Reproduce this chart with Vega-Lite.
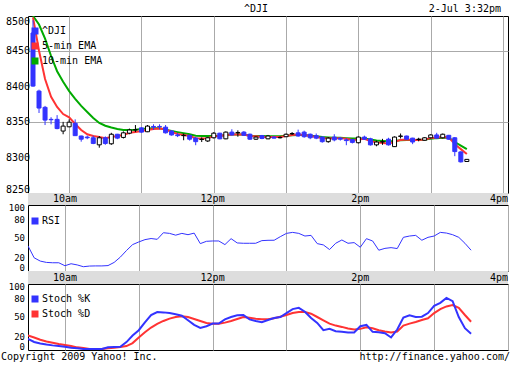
{
"$schema": "https://vega.github.io/schema/vega-lite/v6.json",
"padding": {"left": 0, "top": 3, "right": 0, "bottom": 0},
"background": "white",
"spacing": 0,
"bounds": "flush",
"datasets": {
"bars": [
{"t":"2009-07-02T09:30:00","o":8476,"h":8494,"l":8400,"c":8401,"e5":8498,"e10":8500,"rsi":38,"k":17,"d":22},
{"t":"2009-07-02T09:35:00","o":8394,"h":8396,"l":8363,"c":8370,"e5":8451,"e10":8488,"rsi":20,"k":12.2,"d":19},
{"t":"2009-07-02T09:40:00","o":8371,"h":8373,"l":8346,"c":8353,"e5":8411,"e10":8468,"rsi":15,"k":10,"d":15.5},
{"t":"2009-07-02T09:45:00","o":8354,"h":8357,"l":8347,"c":8353.5,"e5":8386,"e10":8443.5,"rsi":13,"k":8.3,"d":13},
{"t":"2009-07-02T09:50:00","o":8354,"h":8360,"l":8340,"c":8341,"e5":8371.5,"e10":8422,"rsi":12.5,"k":7,"d":11},
{"t":"2009-07-02T09:55:00","o":8337.5,"h":8350.5,"l":8333,"c":8344.5,"e5":8361.5,"e10":8407,"rsi":12.5,"k":6,"d":9},
{"t":"2009-07-02T10:00:00","o":8343.5,"h":8354,"l":8343,"c":8350,"e5":8357,"e10":8394,"rsi":8,"k":5,"d":7.5},
{"t":"2009-07-02T10:05:00","o":8348.5,"h":8354,"l":8331,"c":8331,"e5":8347.5,"e10":8383,"rsi":11,"k":3.5,"d":6},
{"t":"2009-07-02T10:10:00","o":8330.5,"h":8331,"l":8322.5,"c":8326,"e5":8339,"e10":8373,"rsi":9.2,"k":2.5,"d":4},
{"t":"2009-07-02T10:15:00","o":8329,"h":8331,"l":8326,"c":8328,"e5":8333,"e10":8364.5,"rsi":6.5,"k":1.5,"d":3},
{"t":"2009-07-02T10:20:00","o":8328,"h":8331,"l":8319,"c":8320,"e5":8330.5,"e10":8356,"rsi":7.5,"k":1.4,"d":1.6},
{"t":"2009-07-02T10:25:00","o":8318,"h":8330.5,"l":8314,"c":8328,"e5":8329,"e10":8349,"rsi":7.7,"k":1.4,"d":1.4},
{"t":"2009-07-02T10:30:00","o":8328,"h":8330,"l":8318,"c":8320,"e5":8327.5,"e10":8345,"rsi":7.7,"k":1.4,"d":1.4},
{"t":"2009-07-02T10:35:00","o":8319.5,"h":8335,"l":8318,"c":8333,"e5":8329,"e10":8342.5,"rsi":8.2,"k":4,"d":2.5},
{"t":"2009-07-02T10:40:00","o":8333,"h":8333.5,"l":8326,"c":8327.5,"e5":8330.5,"e10":8340.5,"rsi":13,"k":4.5,"d":3.4},
{"t":"2009-07-02T10:45:00","o":8328.5,"h":8337,"l":8327,"c":8335,"e5":8332,"e10":8339,"rsi":21,"k":5,"d":4.5},
{"t":"2009-07-02T10:50:00","o":8334.5,"h":8341,"l":8333,"c":8339,"e5":8335,"e10":8339,"rsi":31,"k":12,"d":6},
{"t":"2009-07-02T10:55:00","o":8339,"h":8346,"l":8336,"c":8339.5,"e5":8336,"e10":8339.5,"rsi":40,"k":22,"d":10.5},
{"t":"2009-07-02T11:00:00","o":8342,"h":8343,"l":8335,"c":8336,"e5":8337.5,"e10":8340.5,"rsi":44,"k":30,"d":19},
{"t":"2009-07-02T11:05:00","o":8336.5,"h":8346,"l":8336,"c":8344.5,"e5":8339,"e10":8341,"rsi":47.5,"k":42,"d":27},
{"t":"2009-07-02T11:10:00","o":8344,"h":8347,"l":8339,"c":8343,"e5":8340.5,"e10":8341.5,"rsi":49.2,"k":53,"d":34},
{"t":"2009-07-02T11:15:00","o":8344,"h":8347,"l":8340,"c":8343.5,"e5":8341,"e10":8341.5,"rsi":48,"k":57.5,"d":39.7},
{"t":"2009-07-02T11:20:00","o":8343,"h":8346,"l":8334,"c":8335,"e5":8340,"e10":8339.5,"rsi":58,"k":57,"d":44},
{"t":"2009-07-02T11:25:00","o":8337.5,"h":8339,"l":8331,"c":8332,"e5":8336,"e10":8337.5,"rsi":57,"k":56,"d":47.5},
{"t":"2009-07-02T11:30:00","o":8332,"h":8334.5,"l":8329,"c":8331,"e5":8333.5,"e10":8336,"rsi":54.3,"k":54.2,"d":50},
{"t":"2009-07-02T11:35:00","o":8331,"h":8334,"l":8324.5,"c":8331.5,"e5":8332,"e10":8334.5,"rsi":57,"k":52,"d":51},
{"t":"2009-07-02T11:40:00","o":8331.5,"h":8332,"l":8324,"c":8326,"e5":8330.5,"e10":8333,"rsi":55,"k":45,"d":50},
{"t":"2009-07-02T11:45:00","o":8327.5,"h":8329,"l":8317.5,"c":8322.5,"e5":8327.5,"e10":8331,"rsi":57.4,"k":38,"d":47},
{"t":"2009-07-02T11:50:00","o":8325.5,"h":8328.5,"l":8322,"c":8326,"e5":8327,"e10":8330.5,"rsi":41.5,"k":33.5,"d":44},
{"t":"2009-07-02T11:55:00","o":8323.5,"h":8329,"l":8322,"c":8328,"e5":8327.5,"e10":8330.5,"rsi":45,"k":36,"d":41},
{"t":"2009-07-02T12:00:00","o":8328,"h":8336,"l":8327,"c":8334.5,"e5":8330,"e10":8330.5,"rsi":45.5,"k":40,"d":39.7},
{"t":"2009-07-02T12:05:00","o":8334.5,"h":8335,"l":8326,"c":8326.5,"e5":8330.5,"e10":8331,"rsi":45.5,"k":40,"d":39.7},
{"t":"2009-07-02T12:10:00","o":8326.5,"h":8337,"l":8326,"c":8336,"e5":8332,"e10":8332,"rsi":40,"k":46.5,"d":41.5},
{"t":"2009-07-02T12:15:00","o":8336,"h":8340,"l":8331,"c":8332,"e5":8332.5,"e10":8332.5,"rsi":49,"k":50,"d":44},
{"t":"2009-07-02T12:20:00","o":8335,"h":8338.5,"l":8329.5,"c":8335.5,"e5":8332.5,"e10":8332.5,"rsi":42.5,"k":52.5,"d":47},
{"t":"2009-07-02T12:25:00","o":8336,"h":8337.5,"l":8331,"c":8331.5,"e5":8332.5,"e10":8332.5,"rsi":42,"k":53,"d":50},
{"t":"2009-07-02T12:30:00","o":8333,"h":8334,"l":8325,"c":8326,"e5":8330.5,"e10":8331,"rsi":42,"k":46.4,"d":49},
{"t":"2009-07-02T12:35:00","o":8326,"h":8330,"l":8325,"c":8329,"e5":8330,"e10":8330.5,"rsi":42,"k":44,"d":47.4},
{"t":"2009-07-02T12:40:00","o":8331,"h":8332,"l":8326,"c":8327,"e5":8329,"e10":8330.5,"rsi":46,"k":42.2,"d":46.5},
{"t":"2009-07-02T12:45:00","o":8326.5,"h":8332,"l":8326,"c":8330.5,"e5":8329,"e10":8330,"rsi":46.5,"k":45.5,"d":46.7},
{"t":"2009-07-02T12:50:00","o":8329,"h":8330,"l":8327,"c":8327.5,"e5":8329,"e10":8330,"rsi":46.6,"k":48.5,"d":48},
{"t":"2009-07-02T12:55:00","o":8328,"h":8330,"l":8327,"c":8328.5,"e5":8329,"e10":8330,"rsi":52,"k":50,"d":50.5},
{"t":"2009-07-02T13:00:00","o":8329.5,"h":8334,"l":8329,"c":8333,"e5":8330.5,"e10":8331,"rsi":57,"k":56,"d":53},
{"t":"2009-07-02T13:05:00","o":8333.5,"h":8336,"l":8332,"c":8334,"e5":8332,"e10":8331.5,"rsi":58.5,"k":62,"d":56},
{"t":"2009-07-02T13:10:00","o":8335,"h":8339.5,"l":8329.5,"c":8330.5,"e5":8332.5,"e10":8332,"rsi":57,"k":63.8,"d":57.7},
{"t":"2009-07-02T13:15:00","o":8336,"h":8338,"l":8328,"c":8329.5,"e5":8332,"e10":8332,"rsi":53,"k":58,"d":57.5},
{"t":"2009-07-02T13:20:00","o":8333,"h":8334,"l":8326,"c":8328,"e5":8330.5,"e10":8331,"rsi":54,"k":48.5,"d":55},
{"t":"2009-07-02T13:25:00","o":8331,"h":8334,"l":8326,"c":8327.5,"e5":8329,"e10":8330,"rsi":41.5,"k":41,"d":50},
{"t":"2009-07-02T13:30:00","o":8329,"h":8330,"l":8321,"c":8322.5,"e5":8327.5,"e10":8329,"rsi":39.5,"k":30,"d":45},
{"t":"2009-07-02T13:35:00","o":8322.5,"h":8329,"l":8321,"c":8327.5,"e5":8327,"e10":8328.5,"rsi":32.5,"k":32,"d":40},
{"t":"2009-07-02T13:40:00","o":8329,"h":8333,"l":8323,"c":8325,"e5":8327.5,"e10":8328,"rsi":42,"k":28.5,"d":37},
{"t":"2009-07-02T13:45:00","o":8327.5,"h":8329,"l":8324,"c":8326,"e5":8327.5,"e10":8328,"rsi":47,"k":27.5,"d":35},
{"t":"2009-07-02T13:50:00","o":8325,"h":8327.5,"l":8317.5,"c":8324,"e5":8326.5,"e10":8327.5,"rsi":42,"k":26.7,"d":32.5},
{"t":"2009-07-02T13:55:00","o":8325.5,"h":8326,"l":8320,"c":8321.5,"e5":8325,"e10":8327,"rsi":43,"k":26.7,"d":31},
{"t":"2009-07-02T14:00:00","o":8321,"h":8330,"l":8320,"c":8329,"e5":8325.5,"e10":8327,"rsi":36,"k":36,"d":32},
{"t":"2009-07-02T14:05:00","o":8329,"h":8331,"l":8325,"c":8326,"e5":8326.5,"e10":8327,"rsi":49,"k":38,"d":34.4},
{"t":"2009-07-02T14:10:00","o":8326.5,"h":8328,"l":8317,"c":8318,"e5":8323.5,"e10":8325.5,"rsi":45.5,"k":27.5,"d":33},
{"t":"2009-07-02T14:15:00","o":8318,"h":8324,"l":8316,"c":8322,"e5":8321.5,"e10":8324,"rsi":31.5,"k":27,"d":30},
{"t":"2009-07-02T14:20:00","o":8322,"h":8326.5,"l":8318,"c":8322.5,"e5":8320.5,"e10":8323.5,"rsi":34.3,"k":25.5,"d":28},
{"t":"2009-07-02T14:25:00","o":8326,"h":8328,"l":8317,"c":8318,"e5":8320,"e10":8323,"rsi":35.4,"k":19,"d":26.5},
{"t":"2009-07-02T14:30:00","o":8315.5,"h":8330,"l":8315,"c":8329,"e5":8322,"e10":8323.5,"rsi":34,"k":31,"d":28},
{"t":"2009-07-02T14:35:00","o":8330,"h":8334,"l":8327,"c":8330.5,"e5":8325,"e10":8324.5,"rsi":51,"k":49,"d":37},
{"t":"2009-07-02T14:40:00","o":8330.5,"h":8331,"l":8325,"c":8326,"e5":8325.5,"e10":8325,"rsi":53,"k":52.5,"d":40},
{"t":"2009-07-02T14:45:00","o":8327.5,"h":8328,"l":8319,"c":8322,"e5":8325,"e10":8325,"rsi":54,"k":50,"d":42.5},
{"t":"2009-07-02T14:50:00","o":8325.5,"h":8328,"l":8323,"c":8326,"e5":8325,"e10":8325,"rsi":46.6,"k":50.5,"d":45.5},
{"t":"2009-07-02T14:55:00","o":8324.5,"h":8329,"l":8324,"c":8328,"e5":8325.5,"e10":8325.5,"rsi":51,"k":56,"d":48},
{"t":"2009-07-02T15:00:00","o":8328,"h":8333,"l":8327,"c":8332,"e5":8327.5,"e10":8326.5,"rsi":53,"k":67,"d":56},
{"t":"2009-07-02T15:05:00","o":8332,"h":8335,"l":8327,"c":8327.5,"e5":8328.5,"e10":8327.5,"rsi":58.5,"k":71.5,"d":62},
{"t":"2009-07-02T15:10:00","o":8328,"h":8334,"l":8327,"c":8333,"e5":8329,"e10":8328,"rsi":57.5,"k":79,"d":66},
{"t":"2009-07-02T15:15:00","o":8331.5,"h":8332,"l":8325,"c":8326,"e5":8328.5,"e10":8328,"rsi":55,"k":74,"d":68},
{"t":"2009-07-02T15:20:00","o":8328,"h":8329,"l":8302,"c":8308.5,"e5":8319,"e10":8322,"rsi":51,"k":50,"d":64},
{"t":"2009-07-02T15:25:00","o":8308,"h":8309,"l":8293,"c":8294,"e5":8312,"e10":8317,"rsi":42,"k":33,"d":53},
{"t":"2009-07-02T15:30:00","o":8294.5,"h":8298,"l":8294,"c":8297.5,"e5":8305,"e10":8312,"rsi":31.5,"k":24.7,"d":42.8}
],
"bandLabels": [
{"t":"2009-07-02T10:00:00","label":"10am","pos":0.5},
{"t":"2009-07-02T12:00:00","label":"12pm","pos":0.5},
{"t":"2009-07-02T14:00:00","label":"2pm","pos":0.5}
],
"bandEnd": [
{"t":"2009-07-02T16:00:00","label":"4pm","pos":0.5}
],
"dashLevels": [{"v": 20}, {"v": 80}],
"solidLevels": [{"v": 50}],
"mainTop": [{"t":"2009-07-02T09:30:00","v":8500}],
"mainMid": [{"t":"2009-07-02T09:30:00","v":8300},{"t":"2009-07-02T09:30:00","v":8350},{"t":"2009-07-02T09:30:00","v":8400},{"t":"2009-07-02T09:30:00","v":8450}],
"mainBot": [{"t":"2009-07-02T09:30:00","v":8250}],
"subTop": [{"t":"2009-07-02T09:30:00","v":100}],
"subHigh": [{"t":"2009-07-02T09:30:00","v":80}],
"subMid": [{"t":"2009-07-02T09:30:00","v":20},{"t":"2009-07-02T09:30:00","v":50}],
"subBot": [{"t":"2009-07-02T09:30:00","v":0}]
},
"vconcat": [
{
"width": 480,
"height": 177,
"data": {"name": "bars"},
"encoding": {
"x": {"field": "t", "type": "temporal",
"scale": {"domain": ["2009-07-02T09:30:00", "2009-07-02T16:00:00"]},
"axis": {"title": null, "labels": false, "domain": false, "ticks": false, "tickCount": 7, "grid": true}}
},
"layer": [
{"mark": {"type": "line", "strokeWidth": 2, "clip": true},
"encoding": {
"y": {"field": "e10", "type": "quantitative", "scale": {"domain": [8250, 8500], "nice": false, "zero": false},
"axis": {"title": null, "values": [8250, 8300, 8350, 8400, 8450, 8500], "labels": false, "ticks": false, "domain": false, "grid": true}},
"color": {"datum": "10-min EMA", "scale": {"domain": ["^DJI", "5-min EMA", "10-min EMA"], "range": ["#3333ff", "#ff3333", "#00aa00"]},
"legend": {"title": null, "orient": "none", "legendX": 2, "legendY": 10, "symbolType": "square", "symbolSize": 9, "symbolStrokeWidth": 4, "labelOffset": 2, "rowPadding": -11, "padding": 0}}
}},
{"mark": {"type": "line", "strokeWidth": 2, "clip": true},
"encoding": {"y": {"field": "e5", "type": "quantitative"}, "color": {"datum": "5-min EMA"}}},
{"mark": {"type": "rule", "clip": true, "strokeWidth": 1},
"encoding": {"y": {"field": "l", "type": "quantitative"}, "y2": {"field": "h"},
"color": {"condition": {"test": "datum.c >= datum.o", "value": "black"}, "value": "#3333ff"}}},
{"mark": {"type": "bar", "size": 4, "strokeWidth": 1, "clip": true},
"encoding": {"y": {"field": "o", "type": "quantitative"}, "y2": {"field": "c"},
"fill": {"condition": {"test": "datum.c >= datum.o", "value": "white"}, "value": "#3333ff"},
"stroke": {"condition": {"test": "datum.c >= datum.o", "value": "black"}, "value": "#3333ff"}}},
{"data": {"name": "mainTop"}, "mark": {"type": "text", "align": "right", "baseline": "top", "dx": -3, "dy": 1},
"encoding": {"y": {"field": "v", "type": "quantitative"}, "text": {"field": "v", "type": "quantitative", "format": "d"}}},
{"data": {"name": "mainMid"}, "mark": {"type": "text", "align": "right", "baseline": "middle", "dx": -3},
"encoding": {"y": {"field": "v", "type": "quantitative"}, "text": {"field": "v", "type": "quantitative", "format": "d"}}},
{"data": {"name": "mainBot"}, "mark": {"type": "text", "align": "right", "baseline": "alphabetic", "dx": -3},
"encoding": {"y": {"field": "v", "type": "quantitative"}, "text": {"field": "v", "type": "quantitative", "format": "d"}}},
{"data": {"values": [{"t": "2009-07-02T12:35:00", "label": "^DJI"}]},
"mark": {"type": "text", "align": "center", "baseline": "alphabetic", "dy": -4},
"encoding": {"y": {"datum": 8500}, "text": {"field": "label"}}},
{"data": {"values": [{"t": "2009-07-02T16:00:00", "label": "2-Jul 3:32pm"}]},
"mark": {"type": "text", "align": "right", "baseline": "alphabetic", "dy": -4, "dx": -2},
"encoding": {"y": {"datum": 8500}, "text": {"field": "label"}}}
]
},
{
"width": 480,
"height": 12,
"view": {"fill": "#dddddd", "stroke": null},
"encoding": {"x": {"field": "t", "type": "temporal", "axis": null,
"scale": {"domain": ["2009-07-02T09:30:00", "2009-07-02T16:00:00"]}},
"y": {"field": "pos", "type": "quantitative", "axis": null, "scale": {"domain": [0, 1]}},
"text": {"field": "label"}},
"layer": [
{"data": {"name": "bandLabels"}, "mark": {"type": "text", "align": "center", "baseline": "middle"}},
{"data": {"name": "bandEnd"}, "mark": {"type": "text", "align": "right", "baseline": "middle"}}
]
},
{
"width": 480,
"height": 66,
"encoding": {
"x": {"field": "t", "type": "temporal",
"scale": {"domain": ["2009-07-02T09:30:00", "2009-07-02T16:00:00"]},
"axis": {"title": null, "labels": false, "domain": false, "ticks": false, "tickCount": 7, "grid": true}}
},
"layer": [
{"data": {"name": "dashLevels"}, "mark": {"type": "rule", "color": "#aaaaaa", "strokeDash": [3, 3], "strokeWidth": 1},
"encoding": {"y": {"field": "v", "type": "quantitative", "scale": {"domain": [0, 100], "nice": false}, "axis": null}}},
{"data": {"name": "solidLevels"}, "mark": {"type": "rule", "color": "#aaaaaa", "strokeWidth": 1},
"encoding": {"y": {"field": "v", "type": "quantitative", "axis": null}}},
{"data": {"name": "bars"}, "mark": {"type": "line", "strokeWidth": 1, "clip": true},
"encoding": {"y": {"field": "rsi", "type": "quantitative", "axis": null},
"color": {"datum": "RSI", "scale": {"domain": ["RSI"], "range": ["#3333ff"]},
"legend": {"title": null, "orient": "none", "legendX": 2, "legendY": 11, "symbolType": "square", "symbolSize": 9, "symbolStrokeWidth": 4, "labelOffset": 2, "padding": 0}}}},
{"data": {"name": "subTop"}, "mark": {"type": "text", "align": "right", "baseline": "top", "dx": -3, "dy": -1, "fontSize": 9},
"encoding": {"y": {"field": "v", "type": "quantitative", "axis": null}, "text": {"field": "v", "type": "quantitative", "format": "d"}}},
{"data": {"name": "subHigh"}, "mark": {"type": "text", "align": "right", "baseline": "middle", "dx": -3, "dy": 1.5, "fontSize": 9},
"encoding": {"y": {"field": "v", "type": "quantitative", "axis": null}, "text": {"field": "v", "type": "quantitative", "format": "d"}}},
{"data": {"name": "subMid"}, "mark": {"type": "text", "align": "right", "baseline": "middle", "dx": -3, "fontSize": 9},
"encoding": {"y": {"field": "v", "type": "quantitative", "axis": null}, "text": {"field": "v", "type": "quantitative", "format": "d"}}},
{"data": {"name": "subBot"}, "mark": {"type": "text", "align": "right", "baseline": "alphabetic", "dx": -3, "fontSize": 9},
"encoding": {"y": {"field": "v", "type": "quantitative", "axis": null}, "text": {"field": "v", "type": "quantitative", "format": "d"}}}
]
},
{
"width": 480,
"height": 13,
"view": {"fill": "#dddddd", "stroke": null},
"encoding": {"x": {"field": "t", "type": "temporal", "axis": null,
"scale": {"domain": ["2009-07-02T09:30:00", "2009-07-02T16:00:00"]}},
"y": {"field": "pos", "type": "quantitative", "axis": null, "scale": {"domain": [0, 1]}},
"text": {"field": "label"}},
"layer": [
{"data": {"name": "bandLabels"}, "mark": {"type": "text", "align": "center", "baseline": "middle"}},
{"data": {"name": "bandEnd"}, "mark": {"type": "text", "align": "right", "baseline": "middle"}}
]
},
{
"width": 480,
"height": 66,
"encoding": {
"x": {"field": "t", "type": "temporal",
"scale": {"domain": ["2009-07-02T09:30:00", "2009-07-02T16:00:00"]},
"axis": {"title": null, "labels": false, "domain": false, "ticks": false, "tickCount": 7, "grid": true}}
},
"layer": [
{"data": {"name": "dashLevels"}, "mark": {"type": "rule", "color": "#aaaaaa", "strokeDash": [3, 3], "strokeWidth": 1},
"encoding": {"y": {"field": "v", "type": "quantitative", "scale": {"domain": [0, 100], "nice": false}, "axis": null}}},
{"data": {"name": "solidLevels"}, "mark": {"type": "rule", "color": "#aaaaaa", "strokeWidth": 1},
"encoding": {"y": {"field": "v", "type": "quantitative", "axis": null}}},
{"data": {"name": "bars"}, "mark": {"type": "line", "strokeWidth": 2, "clip": true},
"encoding": {"y": {"field": "d", "type": "quantitative", "axis": null},
"color": {"datum": "Stoch %D", "scale": {"domain": ["Stoch %K", "Stoch %D"], "range": ["#3333ff", "#ff3333"]},
"legend": {"title": null, "orient": "none", "legendX": 2, "legendY": 10, "symbolType": "square", "symbolSize": 9, "symbolStrokeWidth": 4, "labelOffset": 2, "rowPadding": -9, "padding": 0}}}},
{"data": {"name": "bars"}, "mark": {"type": "line", "strokeWidth": 2, "clip": true},
"encoding": {"y": {"field": "k", "type": "quantitative", "axis": null}, "color": {"datum": "Stoch %K"}}},
{"data": {"name": "subTop"}, "mark": {"type": "text", "align": "right", "baseline": "top", "dx": -3, "dy": -1, "fontSize": 9},
"encoding": {"y": {"field": "v", "type": "quantitative", "axis": null}, "text": {"field": "v", "type": "quantitative", "format": "d"}}},
{"data": {"name": "subHigh"}, "mark": {"type": "text", "align": "right", "baseline": "middle", "dx": -3, "dy": 1.5, "fontSize": 9},
"encoding": {"y": {"field": "v", "type": "quantitative", "axis": null}, "text": {"field": "v", "type": "quantitative", "format": "d"}}},
{"data": {"name": "subMid"}, "mark": {"type": "text", "align": "right", "baseline": "middle", "dx": -3, "fontSize": 9},
"encoding": {"y": {"field": "v", "type": "quantitative", "axis": null}, "text": {"field": "v", "type": "quantitative", "format": "d"}}},
{"data": {"name": "subBot"}, "mark": {"type": "text", "align": "right", "baseline": "alphabetic", "dx": -3, "fontSize": 9},
"encoding": {"y": {"field": "v", "type": "quantitative", "axis": null}, "text": {"field": "v", "type": "quantitative", "format": "d"}}},
{"data": {"values": [{"t": "2009-07-02T09:30:00", "label": "Copyright 2009 Yahoo! Inc."}]},
"mark": {"type": "text", "align": "left", "baseline": "top", "dx": -27, "dy": 2},
"encoding": {"y": {"datum": 0}, "text": {"field": "label"}}},
{"data": {"values": [{"t": "2009-07-02T16:00:00", "label": "http://finance.yahoo.com/"}]},
"mark": {"type": "text", "align": "right", "baseline": "top", "dx": 2, "dy": 2},
"encoding": {"y": {"datum": 0}, "text": {"field": "label"}}}
]
}
],
"resolve": {"scale": {"color": "independent", "x": "independent", "y": "independent"}, "legend": {"color": "independent"}},
"config": {
"font": "DejaVu Sans Mono",
"view": {"stroke": "black", "strokeWidth": 1},
"axis": {"labelFont": "DejaVu Sans Mono", "labelFontSize": 10, "labelColor": "black", "gridColor": "#aaaaaa", "gridWidth": 1},
"legend": {"labelFont": "DejaVu Sans Mono", "labelFontSize": 10, "labelColor": "black"},
"text": {"font": "DejaVu Sans Mono", "fontSize": 10, "color": "black"}
}
}
